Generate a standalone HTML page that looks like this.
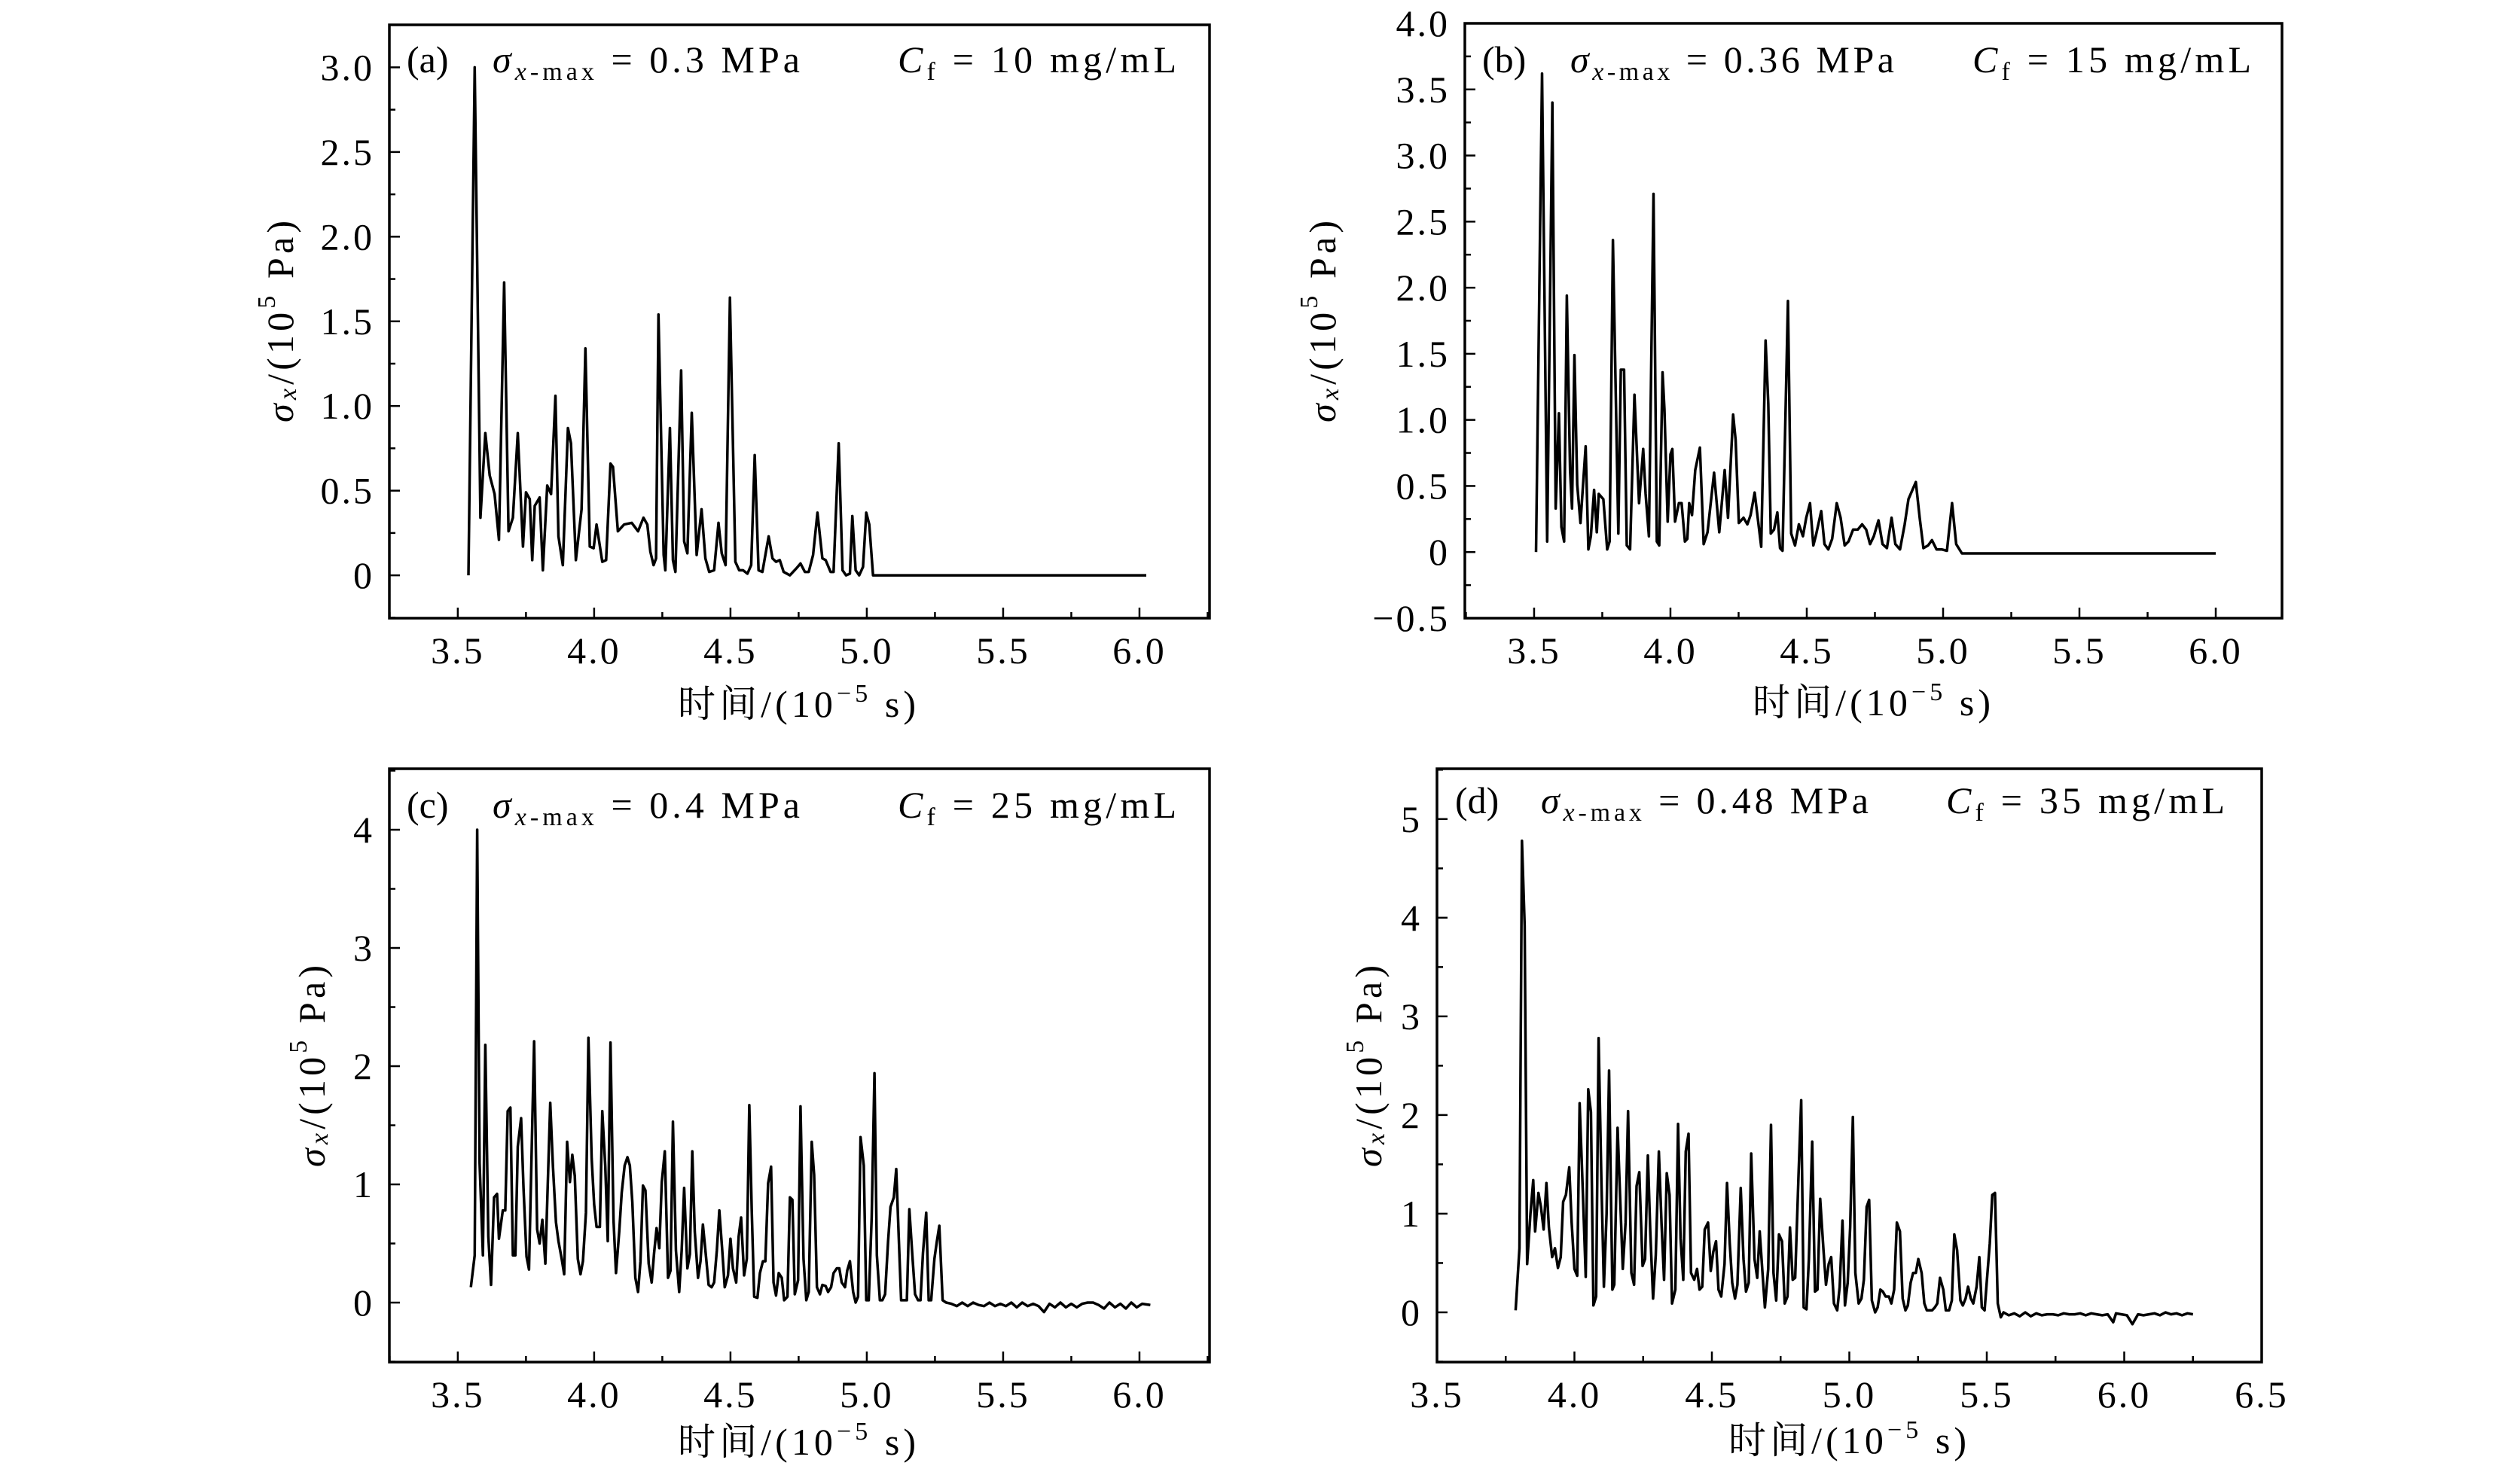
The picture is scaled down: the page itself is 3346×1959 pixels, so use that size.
<!DOCTYPE html>
<html><head><meta charset="utf-8">
<style>
html,body{margin:0;padding:0;background:#fff;}
svg{display:block;}
text{font-family:"Liberation Serif","Noto Serif CJK SC",serif;fill:#000;}
</style></head>
<body>
<svg id="fig" width="3346" height="1959" viewBox="0 0 3346 1959" xmlns="http://www.w3.org/2000/svg"></svg>
<script>
// ---------- data: panel (a) ----------
const tA=[3.539,3.562,3.583,3.601,3.617,3.635,3.651,3.670,3.686,3.702,3.720,3.739,3.750,3.764,3.773,3.782,3.800,3.812,3.828,3.842,3.858,3.869,3.885,3.904,3.915,3.933,3.954,3.968,3.984,3.998,4.009,4.030,4.044,4.060,4.069,4.087,4.110,4.138,4.161,4.181,4.195,4.206,4.218,4.227,4.236,4.255,4.261,4.278,4.289,4.298,4.319,4.330,4.342,4.358,4.376,4.394,4.408,4.422,4.440,4.456,4.468,4.482,4.498,4.518,4.532,4.546,4.562,4.576,4.589,4.603,4.617,4.640,4.654,4.667,4.681,4.695,4.718,4.741,4.757,4.773,4.787,4.803,4.819,4.837,4.849,4.867,4.878,4.897,4.911,4.924,4.938,4.947,4.959,4.972,4.986,4.998,5.009,5.023,5.085,5.995,6.025];
const vA=[0,3.0,0.34,0.84,0.59,0.48,0.21,1.73,0.26,0.34,0.84,0.17,0.49,0.45,0.09,0.41,0.46,0.03,0.53,0.48,1.06,0.23,0.06,0.87,0.78,0.09,0.39,1.34,0.17,0.16,0.30,0.08,0.09,0.66,0.64,0.26,0.30,0.31,0.26,0.34,0.30,0.14,0.06,0.10,1.54,0.12,0.03,0.87,0.09,0.02,1.21,0.20,0.13,0.96,0.12,0.39,0.10,0.02,0.03,0.31,0.13,0.06,1.64,0.08,0.03,0.03,0.01,0.06,0.71,0.03,0.02,0.23,0.10,0.08,0.09,0.02,0,0.04,0.07,0.02,0.02,0.12,0.37,0.10,0.09,0.02,0.02,0.78,0.03,0,0.01,0.35,0.03,0,0.05,0.37,0.30,0,0,0,0];
// ---------- data: panel (b) ----------
const tB=[3.507,3.529,3.548,3.567,3.579,3.591,3.600,3.610,3.620,3.632,3.639,3.648,3.658,3.670,3.689,3.699,3.708,3.720,3.730,3.737,3.754,3.768,3.777,3.789,3.809,3.818,3.830,3.840,3.852,3.868,3.885,3.900,3.909,3.921,3.938,3.950,3.959,3.971,3.978,3.990,4.000,4.007,4.017,4.031,4.041,4.053,4.062,4.069,4.079,4.091,4.108,4.122,4.136,4.160,4.179,4.199,4.211,4.230,4.239,4.251,4.268,4.282,4.294,4.309,4.333,4.349,4.359,4.368,4.380,4.392,4.402,4.411,4.431,4.443,4.457,4.471,4.486,4.498,4.512,4.524,4.533,4.553,4.565,4.579,4.593,4.610,4.624,4.639,4.653,4.670,4.687,4.703,4.718,4.732,4.746,4.763,4.778,4.794,4.811,4.825,4.842,4.859,4.873,4.900,4.914,4.928,4.945,4.959,4.976,4.995,5.014,5.033,5.048,5.069,5.500,5.740,6.000];
const vB=[0,3.62,0.08,3.40,0.33,1.05,0.19,0.08,1.94,0.62,0.33,1.49,0.51,0.22,0.80,0.02,0.12,0.47,0.15,0.44,0.40,0.02,0.08,2.36,0.14,1.38,1.38,0.05,0.02,1.19,0.37,0.78,0.44,0.12,2.71,0.08,0.05,1.36,1.08,0.23,0.74,0.78,0.23,0.37,0.37,0.08,0.10,0.37,0.28,0.62,0.79,0.06,0.15,0.60,0.15,0.62,0.26,1.04,0.85,0.22,0.26,0.21,0.28,0.45,0.04,1.60,1.12,0.14,0.17,0.30,0.03,0.01,1.90,0.14,0.05,0.21,0.12,0.26,0.37,0.05,0.12,0.31,0.06,0.02,0.10,0.37,0.26,0.05,0.08,0.17,0.17,0.21,0.17,0.06,0.12,0.24,0.06,0.03,0.26,0.06,0.02,0.21,0.40,0.53,0.26,0.03,0.05,0.09,0.02,0.02,0.01,0.37,0.06,-0.01,-0.01,-0.01,-0.01];
// ---------- data: panel (c) ----------
const tC=[3.548,3.562,3.571,3.580,3.592,3.601,3.612,3.622,3.633,3.644,3.651,3.665,3.674,3.683,3.693,3.702,3.711,3.720,3.732,3.741,3.752,3.761,3.780,3.791,3.800,3.810,3.821,3.839,3.849,3.860,3.869,3.881,3.890,3.901,3.911,3.920,3.929,3.940,3.950,3.959,3.970,3.979,3.991,4.000,4.009,4.021,4.030,4.041,4.050,4.060,4.071,4.080,4.092,4.101,4.112,4.122,4.131,4.140,4.151,4.161,4.170,4.179,4.188,4.200,4.211,4.220,4.229,4.239,4.248,4.259,4.271,4.280,4.289,4.300,4.312,4.321,4.330,4.342,4.351,4.360,4.369,4.381,4.390,4.399,4.411,4.420,4.431,4.440,4.450,4.459,4.470,4.479,4.491,4.500,4.509,4.521,4.530,4.539,4.550,4.560,4.569,4.578,4.587,4.599,4.608,4.619,4.628,4.638,4.649,4.658,4.667,4.677,4.688,4.697,4.709,4.718,4.727,4.736,4.748,4.757,4.768,4.778,4.787,4.798,4.807,4.817,4.828,4.837,4.849,4.858,4.869,4.878,4.890,4.899,4.908,4.920,4.928,4.938,4.950,4.959,4.968,4.977,4.989,4.998,5.007,5.018,5.028,5.037,5.048,5.057,5.067,5.078,5.087,5.099,5.108,5.117,5.126,5.147,5.156,5.167,5.177,5.188,5.197,5.206,5.218,5.227,5.236,5.248,5.257,5.266,5.278,5.291,5.31,5.33,5.35,5.37,5.39,5.41,5.43,5.45,5.47,5.49,5.51,5.53,5.55,5.57,5.59,5.61,5.63,5.65,5.67,5.69,5.71,5.73,5.75,5.77,5.79,5.81,5.83,5.85,5.87,5.89,5.91,5.93,5.95,5.97,5.99,6.01,6.04];
const vC=[0.13,0.40,4.0,1.18,0.40,2.18,0.56,0.15,0.89,0.92,0.54,0.78,0.78,1.62,1.65,0.40,0.40,1.32,1.56,0.97,0.39,0.28,2.21,0.62,0.50,0.70,0.33,1.69,1.15,0.68,0.52,0.37,0.24,1.36,1.02,1.25,1.07,0.37,0.24,0.35,0.76,2.24,1.22,0.83,0.64,0.64,1.62,1.15,0.52,2.20,0.70,0.25,0.60,0.93,1.16,1.23,1.16,0.85,0.21,0.09,0.35,0.99,0.95,0.33,0.17,0.42,0.63,0.46,1.02,1.28,0.21,0.27,1.53,0.44,0.09,0.44,0.97,0.29,0.41,1.28,0.60,0.21,0.35,0.66,0.37,0.15,0.13,0.17,0.44,0.78,0.44,0.13,0.23,0.54,0.29,0.17,0.56,0.72,0.23,0.37,1.67,0.79,0.05,0.04,0.25,0.35,0.35,1.01,1.15,0.17,0.06,0.25,0.21,0.02,0.05,0.89,0.87,0.07,0.19,1.66,0.37,0.02,0.09,1.36,1.08,0.13,0.07,0.15,0.14,0.09,0.13,0.25,0.29,0.29,0.17,0.13,0.27,0.35,0.09,0,0.05,1.40,1.16,0.02,0.02,0.72,1.94,0.40,0.02,0.02,0.07,0.52,0.81,0.89,1.13,0.56,0.02,0.02,0.79,0.40,0.07,0.02,0.02,0.42,0.76,0.02,0.02,0.37,0.52,0.65,0.02,0,-0.01,-0.03,0,-0.03,0,-0.02,-0.03,0,-0.03,-0.01,-0.03,0,-0.04,0,-0.03,-0.01,-0.03,-0.08,-0.01,-0.04,0,-0.04,-0.01,-0.04,-0.01,0,0,-0.02,-0.05,0,-0.04,-0.01,-0.05,0,-0.04,-0.01,-0.02];
// ---------- data: panel (d) ----------
const tD=[3.786,3.800,3.809,3.819,3.828,3.840,3.850,3.857,3.869,3.878,3.888,3.898,3.907,3.919,3.929,3.940,3.950,3.959,3.969,3.981,3.990,4.000,4.010,4.019,4.031,4.041,4.050,4.060,4.069,4.079,4.088,4.098,4.107,4.117,4.126,4.138,4.145,4.157,4.167,4.176,4.186,4.195,4.207,4.217,4.226,4.236,4.248,4.257,4.267,4.276,4.286,4.296,4.307,4.317,4.326,4.336,4.346,4.355,4.367,4.377,4.386,4.396,4.405,4.415,4.424,4.436,4.446,4.455,4.465,4.474,4.486,4.496,4.505,4.515,4.524,4.534,4.546,4.555,4.565,4.574,4.584,4.593,4.605,4.615,4.624,4.634,4.643,4.655,4.665,4.674,4.684,4.693,4.705,4.715,4.724,4.734,4.744,4.755,4.765,4.775,4.784,4.794,4.803,4.815,4.825,4.834,4.844,4.853,4.865,4.875,4.884,4.894,4.906,4.915,4.925,4.934,4.944,4.956,4.965,4.975,4.984,4.994,5.003,5.013,5.022,5.034,5.044,5.053,5.063,5.072,5.082,5.094,5.103,5.113,5.122,5.132,5.144,5.153,5.163,5.173,5.184,5.194,5.204,5.213,5.223,5.232,5.242,5.251,5.263,5.273,5.282,5.301,5.311,5.320,5.330,5.342,5.351,5.363,5.373,5.382,5.392,5.404,5.413,5.423,5.432,5.442,5.451,5.463,5.473,5.482,5.492,5.501,5.511,5.520,5.530,5.540,5.551,5.561,5.58,5.60,5.62,5.64,5.66,5.68,5.70,5.72,5.74,5.76,5.78,5.80,5.82,5.84,5.86,5.88,5.90,5.92,5.94,5.96,5.97,5.99,6.01,6.03,6.05,6.07,6.09,6.11,6.13,6.15,6.17,6.19,6.21,6.23,6.25,6.276];
const vD=[0.02,0.65,4.78,3.92,0.49,1.00,1.34,0.82,1.21,1.07,0.84,1.31,0.86,0.56,0.65,0.45,0.56,1.12,1.19,1.47,0.91,0.44,0.37,2.12,1.19,0.36,2.26,2.03,0.07,0.16,2.78,1.33,0.26,1.00,2.45,0.23,0.28,1.87,1.10,0.44,0.91,2.04,0.40,0.28,1.28,1.42,0.47,0.54,1.59,0.82,0.14,0.58,1.63,0.89,0.33,1.41,1.19,0.09,0.23,1.91,0.75,0.33,1.63,1.81,0.40,0.33,0.44,0.23,0.26,0.84,0.91,0.42,0.61,0.72,0.23,0.16,0.49,1.31,0.70,0.30,0.14,0.28,1.26,0.54,0.21,0.30,1.61,0.54,0.35,0.82,0.40,0.05,0.44,1.90,0.40,0.12,0.79,0.72,0.09,0.16,0.86,0.33,0.35,1.38,2.15,0.05,0.03,0.54,1.73,0.21,0.23,1.15,0.63,0.28,0.49,0.56,0.09,0.02,0.26,0.93,0.07,0.30,0.86,1.98,0.40,0.09,0.14,0.33,1.07,1.14,0.12,0,0.05,0.23,0.21,0.16,0.16,0.09,0.23,0.91,0.82,0.14,0.02,0.07,0.30,0.40,0.40,0.54,0.40,0.09,0.02,0.02,0.05,0.09,0.35,0.23,0.02,0.02,0.12,0.79,0.63,0.12,0.07,0.14,0.26,0.14,0.09,0.26,0.56,0.05,0.02,0.35,0.70,1.19,1.21,0.09,-0.05,0,-0.03,-0.01,-0.04,0,-0.04,-0.01,-0.03,-0.02,-0.02,-0.03,-0.01,-0.02,-0.02,-0.01,-0.03,-0.01,-0.02,-0.03,-0.02,-0.10,-0.01,-0.02,-0.03,-0.12,-0.02,-0.03,-0.02,-0.01,-0.03,0,-0.02,-0.01,-0.03,-0.01,-0.02];

const yTickA=["0","0.5","1.0","1.5","2.0","2.5","3.0"];
const yTickB=["−0.5","0","0.5","1.0","1.5","2.0","2.5","3.0","3.5","4.0"];
const yTickC=["0","1","2","3","4"];
const yTickD=["0","1","2","3","4","5"];
const xTickABC=["3.5","4.0","4.5","5.0","5.5","6.0"];
const xTickD=["3.5","4.0","4.5","5.0","5.5","6.0","6.5"];

const NS="http://www.w3.org/2000/svg";
const svg=document.getElementById('fig');
function mk(tag,attrs,parent){const e=document.createElementNS(NS,tag);for(const k in attrs)e.setAttribute(k,attrs[k]);(parent||svg).appendChild(e);return e;}

const panels=[
 {id:'a',L:517,R:1606,T:33,B:821,x0:3.249,x1:6.257,y0:-0.253,y1:3.251,yMaj:0.5,yMin:0.25,yLab:yTickA,yStart:0,xLab:xTickABC,t:tA,v:vA,
  ylx:372,yly:427,xlx:1058,xly:952,tag:540,sig:654,cfR:1562,base:96,smax:'0.3',cf:'10',sw:408},
 {id:'b',L:1945,R:3030,T:31,B:821,x0:3.246,x1:6.243,y0:-0.5,y1:4.0,yMaj:0.5,yMin:0.25,yLab:yTickB,yStart:-0.5,xLab:xTickABC,t:tB,v:vB,
  ylx:1756,yly:427,xlx:2485,xly:950,tag:1968,sig:2085,cfR:2989,base:96,smax:'0.36',cf:'15',sw:430},
 {id:'c',L:517,R:1606,T:1021,B:1809,x0:3.249,x1:6.257,y0:-0.503,y1:4.516,yMaj:1,yMin:0.5,yLab:yTickC,yStart:0,xLab:xTickABC,t:tC,v:vC,
  ylx:414,yly:1416,xlx:1058,xly:1932,tag:540,sig:654,cfR:1562,base:1086,smax:'0.4',cf:'25',sw:408},
 {id:'d',L:1908,R:3003,T:1021,B:1809,x0:3.5,x1:6.5,y0:-0.504,y1:5.51,yMaj:1,yMin:0.5,yLab:yTickD,yStart:0,xLab:xTickD,t:tD,v:vD,
  ylx:1817,yly:1416,xlx:2453,xly:1930,tag:1932,sig:2046,cfR:2954,base:1080,smax:'0.48',cf:'35',sw:435}
];

panels.forEach(p=>{
  const g=mk('g',{});
  
  
  const X=t=>p.L+(t-p.x0)/(p.x1-p.x0)*(p.R-p.L);
  const Y=v=>p.B-(v-p.y0)/(p.y1-p.y0)*(p.B-p.T);
  const pts=p.t.map((t,i)=>X(t).toFixed(1)+','+Y(p.v[i]).toFixed(1)).join(' ');
  const line=mk('polyline',{points:pts,fill:'none',stroke:'#000','stroke-width':3.5,'stroke-linejoin':'round'},g);
  
  
  const fr=mk('rect',{x:p.L,y:p.T,width:p.R-p.L,height:p.B-p.T,fill:'none',stroke:'#000','stroke-width':3.5},g);
  
  
  const yAx=mk('g',{},g);
  
  
  for(let v=Math.ceil(p.y0/p.yMin)*p.yMin; v<=p.y1+1e-9; v+=p.yMin){
    const vv=Math.round(v*1000)/1000;
    const maj=Math.abs(vv/p.yMaj-Math.round(vv/p.yMaj))<1e-6;
    const y=Y(vv);
    mk('line',{x1:p.L,x2:p.L+(maj?14:8),y1:y,y2:y,stroke:'#000','stroke-width':2.5},yAx);
  }
  p.yLab.forEach((s,i)=>{
    const v=p.yStart+i*p.yMaj;
    const tx=mk('text',{x:p.L-20,y:Y(v)+17,'text-anchor':'end','font-size':50,'letter-spacing':3},yAx);
    tx.textContent=s;
    
    
  });
  const xAx=mk('g',{},g);
  
  
  for(let t=Math.ceil(p.x0/0.25)*0.25; t<=p.x1+1e-9; t+=0.25){
    const tt=Math.round(t*100)/100;
    const maj=Math.abs(tt*2-Math.round(tt*2))<1e-6;
    const x=X(tt);
    mk('line',{x1:x,x2:x,y1:p.B,y2:p.B-(maj?14:8),stroke:'#000','stroke-width':2.5},xAx);
  }
  p.xLab.forEach((s,i)=>{
    const t=3.5+i*0.5;
    const tx=mk('text',{x:X(t),y:p.B+60,'text-anchor':'middle','font-size':50,'letter-spacing':3},xAx);
    tx.textContent=s;
    
    
  });
  const yt=mk('text',{x:-134,y:0,'font-size':50,transform:`translate(${p.ylx},${p.yly}) rotate(-90)`,'dominant-baseline':'central',textLength:268,lengthAdjust:'spacing'},g);
  
  
  yt.innerHTML='<tspan font-style="italic">σ</tspan><tspan font-style="italic" font-size="34" dy="10">x</tspan><tspan dy="-10">/(10</tspan><tspan font-size="34" dy="-18">5</tspan><tspan dy="18"> Pa)</tspan>';
  const xt=mk('text',{x:p.xlx-158,y:p.xly,'font-size':50,textLength:316,lengthAdjust:'spacing'},g);
  
  
  xt.innerHTML='时间/(10<tspan font-size="34" dy="-20">−5</tspan><tspan dy="20"> s)</tspan>';
  const tg=mk('text',{x:p.tag,y:p.base,'font-size':50},g);
  tg.textContent='('+p.id+')';
  
  
  const sm=mk('text',{x:p.sig,y:p.base,'font-size':50,textLength:p.sw,lengthAdjust:'spacing'},g);
  
  
  sm.innerHTML='<tspan font-style="italic">σ</tspan><tspan font-size="34" dy="10"><tspan font-style="italic">x</tspan>-max</tspan><tspan dy="-10"> = '+p.smax+' MPa</tspan>';
  const cf=mk('text',{x:p.cfR-370,y:p.base,'font-size':50,textLength:370,lengthAdjust:'spacing'},g);
  
  
  cf.innerHTML='<tspan font-style="italic">C</tspan><tspan font-size="34" dy="10">f</tspan><tspan dy="-10"> = '+p.cf+' mg/mL</tspan>';
});
</script>
</body></html>
